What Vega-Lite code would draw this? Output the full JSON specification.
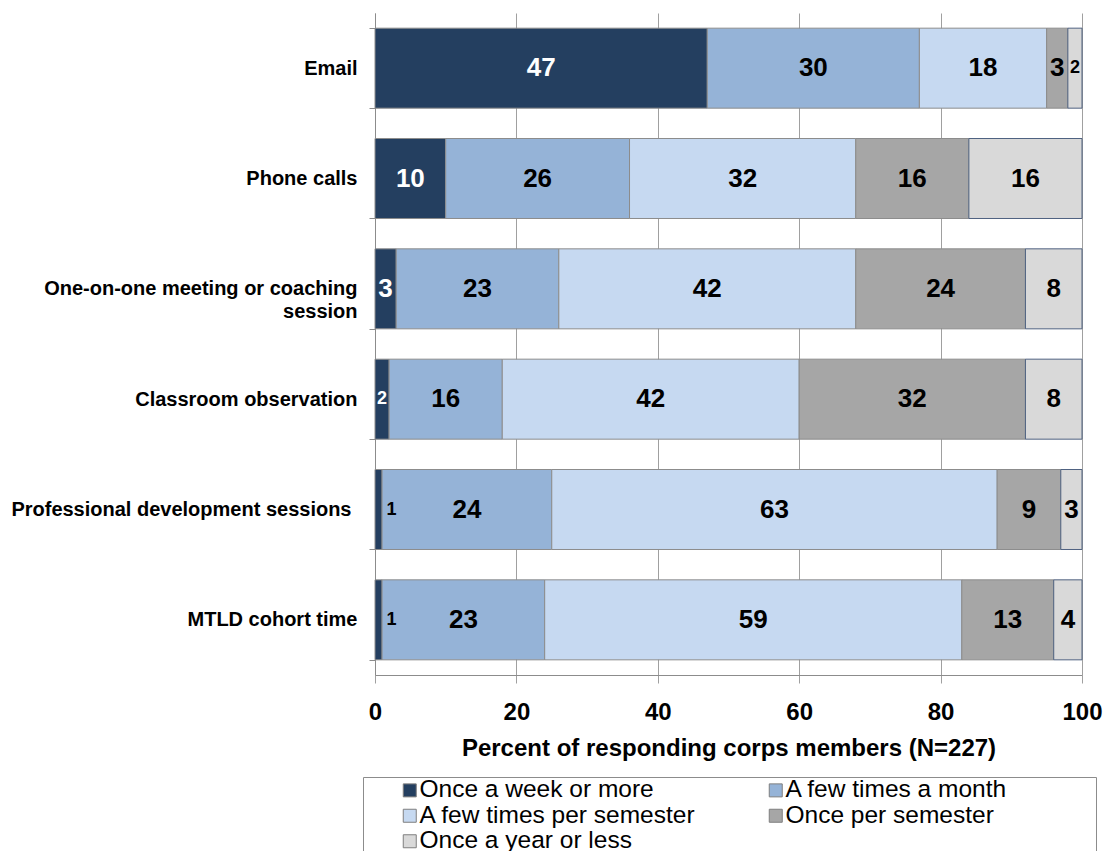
{
  "$schema": "https://vega.github.io/schema/vega-lite/v6.json",
  "autosize": "none",
  "width": 707,
  "height": 662,
  "padding": {"left": 375, "top": 13, "right": 28, "bottom": 176},
  "background": "white",
  "config": {
    "view": {"stroke": null},
    "font": "Liberation Sans"
  },
  "data": {
    "values": [
      {"channel": "Email", "freq": "Once a week or more", "value": 47},
      {"channel": "Email", "freq": "A few times a month", "value": 30},
      {"channel": "Email", "freq": "A few times per semester", "value": 18},
      {"channel": "Email", "freq": "Once per semester", "value": 3},
      {"channel": "Email", "freq": "Once a year or less", "value": 2},
      {"channel": "Phone calls", "freq": "Once a week or more", "value": 10},
      {"channel": "Phone calls", "freq": "A few times a month", "value": 26},
      {"channel": "Phone calls", "freq": "A few times per semester", "value": 32},
      {"channel": "Phone calls", "freq": "Once per semester", "value": 16},
      {"channel": "Phone calls", "freq": "Once a year or less", "value": 16},
      {"channel": "One-on-one meeting or coaching session", "freq": "Once a week or more", "value": 3},
      {"channel": "One-on-one meeting or coaching session", "freq": "A few times a month", "value": 23},
      {"channel": "One-on-one meeting or coaching session", "freq": "A few times per semester", "value": 42},
      {"channel": "One-on-one meeting or coaching session", "freq": "Once per semester", "value": 24},
      {"channel": "One-on-one meeting or coaching session", "freq": "Once a year or less", "value": 8},
      {"channel": "Classroom observation", "freq": "Once a week or more", "value": 2},
      {"channel": "Classroom observation", "freq": "A few times a month", "value": 16},
      {"channel": "Classroom observation", "freq": "A few times per semester", "value": 42},
      {"channel": "Classroom observation", "freq": "Once per semester", "value": 32},
      {"channel": "Classroom observation", "freq": "Once a year or less", "value": 8},
      {"channel": "Professional development sessions", "freq": "Once a week or more", "value": 1},
      {"channel": "Professional development sessions", "freq": "A few times a month", "value": 24},
      {"channel": "Professional development sessions", "freq": "A few times per semester", "value": 63},
      {"channel": "Professional development sessions", "freq": "Once per semester", "value": 9},
      {"channel": "Professional development sessions", "freq": "Once a year or less", "value": 3},
      {"channel": "MTLD cohort time", "freq": "Once a week or more", "value": 1},
      {"channel": "MTLD cohort time", "freq": "A few times a month", "value": 23},
      {"channel": "MTLD cohort time", "freq": "A few times per semester", "value": 59},
      {"channel": "MTLD cohort time", "freq": "Once per semester", "value": 13},
      {"channel": "MTLD cohort time", "freq": "Once a year or less", "value": 4}
    ]
  },
  "transform": [
    {"calculate": "indexof(['Once a week or more','A few times a month','A few times per semester','Once per semester','Once a year or less'], datum.freq)", "as": "k"},
    {"stack": "value", "groupby": ["channel"], "sort": [{"field": "k", "order": "ascending"}], "as": ["x0", "x1"]},
    {"calculate": "(datum.x0 + datum.x1) / 2", "as": "xm"}
  ],
  "encoding": {
    "y": {
      "field": "channel",
      "type": "nominal",
      "sort": ["Email", "Phone calls", "One-on-one meeting or coaching session", "Classroom observation", "Professional development sessions", "MTLD cohort time"],
      "scale": {"paddingInner": 0.275, "paddingOuter": 0.1375},
      "axis": {
        "title": null,
        "tickBand": "extent",
        "domainColor": "#8c8c8c",
        "tickColor": "#8c8c8c",
        "tickSize": 6,
        "labelPadding": {"condition": {"test": "datum.value == 'Professional development sessions'", "value": 18}, "value": 12},
        "labelFont": "Liberation Sans",
        "labelFontSize": 20,
        "labelFontWeight": "bold",
        "labelColor": "#000000",
        "labelLimit": 400,
        "labelLineHeight": 23,
        "labelExpr": "datum.value == 'One-on-one meeting or coaching session' ? ['One-on-one meeting or coaching', 'session'] : datum.value"
      }
    }
  },
  "layer": [
    {
      "mark": {"type": "bar", "strokeWidth": 1},
      "encoding": {
        "x": {
          "field": "x0",
          "type": "quantitative",
          "scale": {"domain": [0, 100], "nice": false},
          "axis": {
            "title": "Percent of responding corps members (N=227)",
            "values": [0, 20, 40, 60, 80, 100],
            "grid": true,
            "gridColor": "#a0a0a0",
            "gridWidth": 1,
            "domainColor": "#8c8c8c",
            "tickColor": "#a0a0a0",
            "tickSize": 8,
            "labelPadding": 17,
            "labelFont": "Liberation Sans",
            "labelFontSize": 24,
            "labelFontWeight": "bold",
            "labelColor": "#000000",
            "labelFlush": false,
            "titleFont": "Liberation Sans",
            "titleFontSize": 24,
            "titleFontWeight": "bold",
            "titleColor": "#000000",
            "titlePadding": 12
          }
        },
        "x2": {"field": "x1"},
        "color": {
          "field": "freq",
          "type": "nominal",
          "scale": {
            "domain": ["Once a week or more", "A few times a month", "A few times per semester", "Once per semester", "Once a year or less"],
            "range": ["#243f60", "#95b3d7", "#c6d9f1", "#a6a6a6", "#d9d9d9"]
          },
          "legend": {
            "title": "\u00a0",
            "titleOrient": "right",
            "titlePadding": 88,
            "titleFontSize": 10,
            "orient": "none",
            "legendX": -12,
            "legendY": 764,
            "columns": 2,
            "direction": "horizontal",
            "padding": 1,
            "strokeColor": "#8c8c8c",
            "fillColor": "white",
            "symbolType": "square",
            "symbolSize": 169,
            "symbolStrokeColor": "#7f7f7f",
            "symbolStrokeWidth": 1,
            "symbolOffset": 33.5,
            "labelOffset": -2.5,
            "labelFont": "Liberation Sans",
            "labelFontSize": 24.5,
            "labelColor": "#000000",
            "labelLimit": 400,
            "columnPadding": 34,
            "rowPadding": 0.5
          }
        },
        "stroke": {
          "condition": {"test": "datum.freq == 'Once a year or less'", "value": "#4f6281"},
          "value": "#8c8c8c"
        }
      }
    },
    {
      "transform": [{"filter": "!(datum.k == 0 && datum.value == 1)"}],
      "mark": {"type": "text", "font": "Liberation Sans", "fontWeight": "bold", "baseline": "middle", "align": "center"},
      "encoding": {
        "x": {"field": "xm", "type": "quantitative"},
        "text": {"field": "value", "type": "quantitative"},
        "color": {
          "condition": {"test": "datum.k == 0", "value": "#ffffff"},
          "value": "#000000"
        },
        "size": {
          "condition": {"test": "datum.value <= 2", "value": 18},
          "value": 26
        }
      }
    },
    {
      "transform": [{"filter": "datum.k == 0 && datum.value == 1"}],
      "mark": {"type": "text", "font": "Liberation Sans", "fontWeight": "bold", "baseline": "middle", "align": "center", "dx": 13, "fontSize": 18, "color": "#000000"},
      "encoding": {
        "x": {"field": "xm", "type": "quantitative"},
        "text": {"field": "value", "type": "quantitative"}
      }
    }
  ]
}
